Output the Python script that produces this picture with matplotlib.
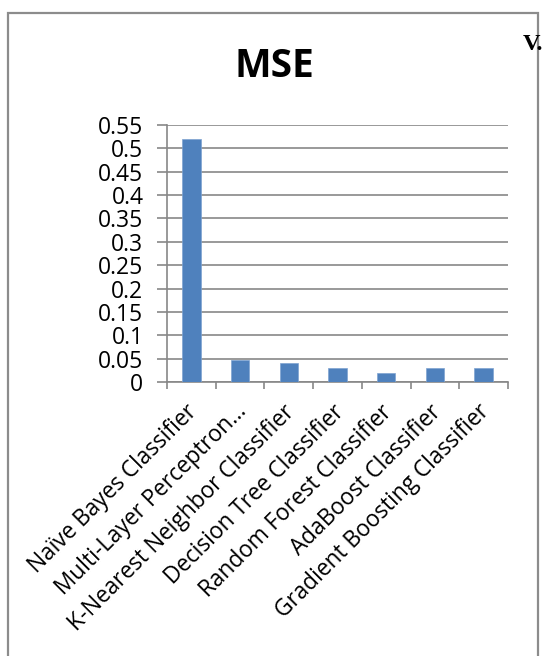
import matplotlib
matplotlib.use("Agg")
import matplotlib.pyplot as plt
from matplotlib.patches import Rectangle
from matplotlib.ticker import FixedLocator, FuncFormatter
from matplotlib.transforms import ScaledTranslation
import numpy as np

categories = ["Naïve Bayes Classifier", "Multi-Layer Perceptron…",
              "K-Nearest Neighbor Classifier", "Decision Tree Classifier",
              "Random Forest Classifier", "AdaBoost Classifier",
              "Gradient Boosting Classifier"]
mse = [0.52, 0.048, 0.04, 0.031, 0.019, 0.031, 0.031]
yticks = [0, 0.05, 0.1, 0.15, 0.2, 0.25, 0.3, 0.35, 0.4, 0.45, 0.5, 0.55]
title = "MSE"

W, H = 547, 656
fig = plt.figure(figsize=(W / 100, H / 100), dpi=100)
fig.patch.set_facecolor("white")

grid_c = "#878787"
bar_c = "#4F81BD"
font = "Open Sans"

# chart border
fig.add_artist(Rectangle((8 / W, -0.05), (538 - 8) / W, (H - 13) / H + 0.05,
                         transform=fig.transFigure, fill=False,
                         edgecolor="#8c8c8c", linewidth=1.6))

ax = fig.add_axes([167 / W, (H - 382) / H, (508 - 167) / W, (382 - 125) / H])
x = np.arange(len(categories))
ax.bar(x, mse, width=0.38, color=bar_c, edgecolor="#7ea3d1", linewidth=0.5, zorder=3)
ax.set_xlim(-0.5, len(categories) - 0.5)
ax.set_ylim(0, 0.55)

ax.set_yticks(yticks)
ax.yaxis.set_major_formatter(FuncFormatter(lambda v, p: ("%.2f" % v).rstrip("0").rstrip(".") if v else "0"))
ax.yaxis.grid(True, color=grid_c, linewidth=1.2, zorder=0)
ax.tick_params(axis="y", length=7, width=1.2, color=grid_c, pad=10,
               labelsize=16.5, labelcolor="black")
for lab in ax.get_yticklabels():
    lab.set_fontfamily(font)

ax.set_xticks(x)
ax.set_xticklabels(categories, rotation=45, ha="right", va="center",
                   rotation_mode="anchor", fontsize=16.3, family=font)
ax.xaxis.set_minor_locator(FixedLocator(np.arange(-0.5, len(categories), 1.0)))
ax.tick_params(axis="x", which="major", length=0, pad=19)
ax.tick_params(axis="x", which="minor", length=5, width=1.2, color=grid_c)
off = ScaledTranslation(2 / 72, 0, fig.dpi_scale_trans)
for lab in ax.get_xticklabels():
    lab.set_transform(lab.get_transform() + off)

for s in ["top", "right"]:
    ax.spines[s].set_visible(False)
for s in ["left", "bottom"]:
    ax.spines[s].set_color(grid_c)
    ax.spines[s].set_linewidth(1.2)
ax.set_axisbelow(True)

fig.text(274 / W, (H - 77) / H, title, ha="center", va="baseline",
         fontsize=28, fontweight="bold", family=font)
fig.text(523 / W, (H - 50) / H, "V.", ha="left", va="baseline",
         fontsize=17.5, fontweight="bold", family="Liberation Serif")

fig.savefig("out.png", dpi=100)
